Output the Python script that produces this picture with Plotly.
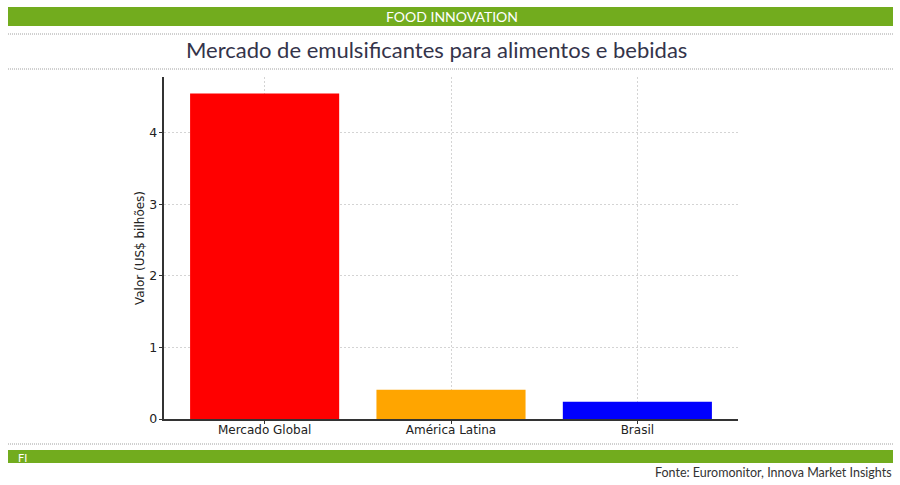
import plotly.graph_objects as go

# data
categories = ['Mercado Global', 'América Latina', 'Brasil']
values = [4.55, 0.41, 0.24]
bar_colors = ['#ff0000', '#ffa500', '#0000ff']

W, H = 900, 485
L, R, T, B = 164, 738, 77, 419   # plot area in pixels
GREEN = '#72ac1e'

fig = go.Figure()

fig.add_trace(go.Bar(
    x=categories,
    y=values,
    marker=dict(color=bar_colors, line=dict(width=0)),
    width=0.8,
    showlegend=False,
    hoverinfo='x+y'
))

# pixel -> paper (paper is relative to the plot area)
def px_x(v):
    return (v - L) / (R - L)

def px_y(v):
    return (B - v) / (B - T)

shapes = [
    # top green banner
    dict(type='rect', xref='paper', yref='paper', x0=px_x(8), x1=px_x(893),
         y0=px_y(26), y1=px_y(7), fillcolor=GREEN, line=dict(width=0), layer='below'),
    # bottom green banner
    dict(type='rect', xref='paper', yref='paper', x0=px_x(8), x1=px_x(893),
         y0=px_y(463), y1=px_y(450), fillcolor=GREEN, line=dict(width=0), layer='below'),
]
for yy in [34, 69, 444]:
    shapes.append(dict(type='line', xref='paper', yref='paper', x0=px_x(8), x1=px_x(893),
                       y0=px_y(yy), y1=px_y(yy),
                       line=dict(color='#a0a0a0', width=1, dash='1px,1px')))

annotations = [
    dict(text='FOOD INNOVATION', x=px_x(452), y=px_y(17), xref='paper', yref='paper',
         showarrow=False, font=dict(family='Lato', size=14, color='white'),
         xanchor='center', yanchor='middle'),
    dict(text='Mercado de emulsificantes para alimentos e bebidas', x=px_x(436), y=px_y(50),
         xref='paper', yref='paper', showarrow=False,
         font=dict(family='Lato', size=22, color='#34344a'), xanchor='center', yanchor='middle'),
    dict(text='FI', x=px_x(16), y=px_y(457), xref='paper', yref='paper', showarrow=False,
         font=dict(family='Lato', size=11, color='white'), xanchor='left', yanchor='middle'),
    dict(text='Fonte: Euromonitor, Innova Market Insights', x=px_x(894), y=px_y(472),
         xref='paper', yref='paper', showarrow=False,
         font=dict(family='Lato', size=12.5, color='#333333'), xanchor='right', yanchor='middle'),
]

fig.update_layout(
    width=W, height=H,
    margin=dict(l=L, r=W - R, t=T, b=H - B),
    paper_bgcolor='white',
    plot_bgcolor='white',
    shapes=shapes,
    annotations=annotations,
    font=dict(family='DejaVu Sans', size=12, color='#222222'),
)

fig.update_xaxes(
    range=[-0.54, 2.54],
    showgrid=True, gridcolor='#d4d4d4', griddash='2px,2px', gridwidth=1,
    showline=True, linecolor='#333333', linewidth=1.5,
    ticks='outside', ticklen=3.5, tickcolor='#333333',
    ticklabelstandoff=-5,
    tickfont=dict(family='DejaVu Sans', size=12, color='#222222'),
    zeroline=False,
)
fig.update_yaxes(
    range=[0, 4.78],
    tickvals=[0, 1, 2, 3, 4],
    showgrid=True, gridcolor='#d4d4d4', griddash='2px,2px', gridwidth=1,
    showline=True, linecolor='#333333', linewidth=1.5,
    ticks='outside', ticklen=3.5, tickcolor='#333333',
    ticklabelstandoff=-1,
    tickfont=dict(family='DejaVu Sans', size=12.5, color='#222222'),
    title=dict(text='Valor (US$ bilhões)', font=dict(family='DejaVu Sans', size=12, color='#222222'),
               standoff=2),
    zeroline=False,
)

fig.write_html('out.html', config={'displayModeBar': False},
               post_script="document.body.style.margin='0px';")
